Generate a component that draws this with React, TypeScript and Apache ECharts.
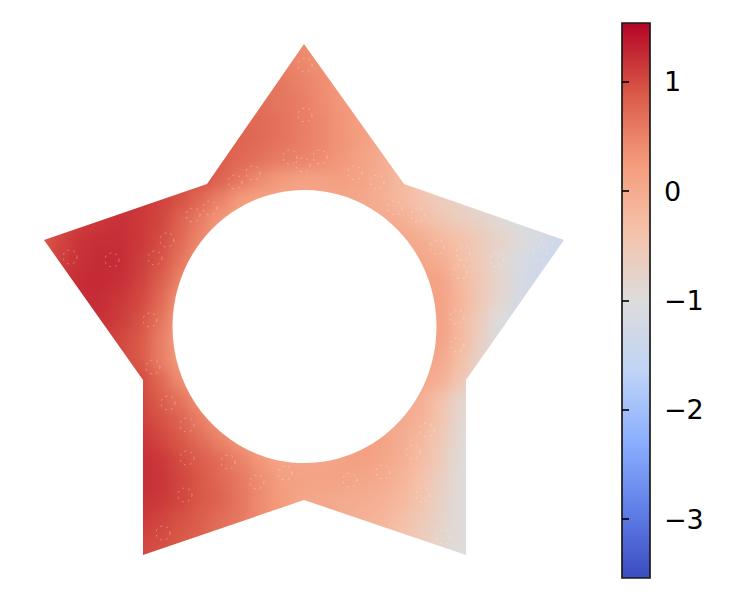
import React, { useEffect, useRef } from "react";
import * as echarts from "echarts";

const VALUE_MIN = -3.54;
const VALUE_MAX = 1.54;
const coolwarm = ["#3b4cc0", "#6180e9", "#8db0fe", "#c0d4f5", "#dddcdc", "#f5c2aa", "#f49a7b", "#d95847", "#b40426"];
const colorbarTicks = [-3, -2, -1, 0, 1];

const xCells = Array.from({ length: 29 }, (_, i) => String(20 + i * 20));
const yCells = Array.from({ length: 29 }, (_, i) => String(20 + i * 20));

// [row y, first column x]
const fieldRows: [number, number, number[]][] = [
  [40, 260, [0.45, 0.4, 0.4, 0.38, 0.3]],
  [60, 260, [0.5, 0.5, 0.45, 0.35, 0.3]],
  [80, 240, [0.62, 0.6, 0.6, 0.5, 0.4, 0.3, 0.25]],
  [100, 220, [0.72, 0.7, 0.68, 0.62, 0.55, 0.42, 0.3, 0.2, 0.12]],
  [120, 200, [0.82, 0.78, 0.75, 0.72, 0.65, 0.55, 0.45, 0.32, 0.2, 0.05, -0.05]],
  [140, 180, [0.95, 0.88, 0.8, 0.78, 0.72, 0.65, 0.55, 0.45, 0.33, 0.2, 0.05, -0.15, -0.3]],
  [160, 140, [1.1, 1.05, 1.0, 0.9, 0.85, 0.75, 0.65, 0.55, 0.5, 0.4, 0.3, 0.15, 0, -0.2, -0.4, -0.55]],
  [180, 100, [1.15, 1.15, 1.12, 1.05, 1.0, 0.92, 0.8, 0.6, 0.4, 0.25, 0.15, 0.15, 0.2, 0.12, -0.02, -0.2, -0.4, -0.55, -0.7, -0.85]],
  [200, 60, [1.0, 1.1, 1.15, 1.18, 1.15, 1.08, 0.95, 0.75, 0.5, 0.25, 0.15, 0.1, 0.1, 0.1, 0.1, 0.05, -0.05, -0.2, -0.4, -0.6, -0.75, -0.85, -1.0, -1.1]],
  [220, 20, [0.8, 0.9, 1.02, 1.1, 1.15, 1.2, 1.15, 1.05, 0.8, 0.55, 0.3, 0.15, 0.1]],
  [220, 360, [0.1, 0.05, -0.05, -0.25, -0.45, -0.6, -0.75, -0.9, -1.05, -1.15, -1.25]],
  [240, 20, [0.8, 0.85, 1.05, 1.18, 1.22, 1.22, 1.15, 1.0, 0.75, 0.45, 0.2, 0.1]],
  [240, 380, [0.12, 0.1, -0.02, -0.2, -0.35, -0.55, -0.75, -0.95, -1.15, -1.3, -1.35]],
  [260, 40, [0.9, 1.08, 1.2, 1.25, 1.23, 1.12, 0.95, 0.65, 0.3, 0.15]],
  [260, 400, [0.1, 0.1, -0.05, -0.3, -0.55, -0.85, -1.1, -1.3, -1.35]],
  [280, 40, [1.05, 1.15, 1.23, 1.25, 1.22, 1.08, 0.85, 0.5, 0.2]],
  [280, 420, [0.15, 0.12, -0.2, -0.5, -0.8, -1.15, -1.3]],
  [300, 60, [1.2, 1.23, 1.23, 1.15, 1.03, 0.75, 0.35, 0.15]],
  [300, 420, [0.15, 0.12, -0.15, -0.5, -0.85, -1.2, -1.3]],
  [320, 80, [1.2, 1.2, 1.12, 0.95, 0.65, 0.25, 0.1]],
  [320, 420, [0.15, 0.15, -0.2, -0.6, -1, -1.25]],
  [340, 80, [1.12, 1.12, 1.03, 0.9, 0.55, 0.2, 0.1]],
  [340, 420, [0.15, 0.15, -0.2, -0.65, -1.1, -1.3]],
  [360, 100, [1.05, 1.0, 0.9, 0.55, 0.25, 0.1]],
  [360, 420, [0.1, 0.05, -0.3, -0.75, -1.1]],
  [380, 120, [1.05, 1.0, 0.75, 0.4, 0.15, 0.1]],
  [380, 400, [0.1, 0.1, -0.05, -0.45, -0.85, -1.1]],
  [400, 120, [1.1, 1.05, 0.85, 0.65, 0.35, 0.1, 0.1]],
  [400, 380, [0.1, 0.1, -0.05, -0.35, -0.8, -1, -1]],
  [420, 120, [1.15, 1.1, 0.95, 0.8, 0.55, 0.3, 0.05, 0.05]],
  [420, 360, [0.15, 0.1, 0.05, -0.1, -0.4, -0.85, -1]],
  [440, 120, [1.18, 1.18, 1.05, 0.9, 0.7, 0.5, 0.3, 0.1, 0.1]],
  [440, 340, [0.2, 0.2, 0.15, -0.02, -0.2, -0.5, -0.9, -1]],
  [460, 120, [1.22, 1.22, 1.15, 1.0, 0.85, 0.7, 0.5, 0.3, 0.12, 0.1, 0.1, 0.15, 0.18, 0.1, -0.05, -0.25, -0.55, -0.92, -1]],
  [480, 120, [1.22, 1.22, 1.18, 1.05, 0.9, 0.75, 0.6, 0.4, 0.2, 0.15, 0.12, 0.12, 0.08, 0.02, -0.12, -0.35, -0.65, -0.95, -1]],
  [500, 120, [1.2, 1.2, 1.15, 1.05, 0.9, 0.8, 0.62, 0.4, 0.25, 0.1, 0.05, 0.02, -0.02, -0.08, -0.2, -0.4, -0.7, -0.95, -1]],
  [520, 120, [1.15, 1.15, 1.05, 0.95, 0.85, 0.7, 0.6, 0.4, 0.25, 0.15, 0.1, 0, -0.1, -0.15, -0.3, -0.5, -0.75, -0.95, -1]],
  [540, 120, [1.05, 1.05, 1.0, 0.9, 0.8, 0.65, 0.5, 0.3]],
  [540, 360, [-0.15, -0.2, -0.35, -0.55, -0.8, -0.95, -1]],
  [560, 120, [1, 1, 0.95, 0.85, 0.7]],
  [560, 400, [-0.45, -0.6, -0.85, -1, -1]],
];

const starOutline: [number, number][] = [
  [304, 44], [404, 184], [564, 240], [466, 380], [466, 555], [304, 500], [143, 555], [143, 380], [44, 240], [207, 184],
];
const holeCenter: [number, number] = [304.5, 326.5];
const holeRadii: [number, number] = [132, 136.5];

// faint rings left by the mesh
const meshRings: [number, number][] = [
  [70, 257], [112, 260], [155, 258], [167, 240], [193, 215], [210, 208], [150, 320], [153, 367],
  [395, 208], [418, 215], [437, 247], [460, 272], [463, 253], [497, 260], [540, 253], [457, 317], [457, 345],
  [168, 403], [187, 425], [187, 458], [228, 462], [185, 495], [257, 482], [285, 473], [163, 533],
  [350, 480], [383, 472], [413, 452], [423, 495], [443, 537], [427, 430],
  [305, 65], [305, 115], [253, 173], [355, 173], [235, 182], [290, 157], [320, 157], [303, 165], [377, 182],
];

export default function App() {
  const fieldRef = useRef<HTMLDivElement>(null);
  const frontRef = useRef<HTMLDivElement>(null);

  useEffect(() => {
    const field = echarts.init(fieldRef.current!, null, { renderer: "svg" });
    const front = echarts.init(frontRef.current!, null, { renderer: "svg" });

    const cells: [number, number, number][] = [];
    fieldRows.forEach(([y, x0, values]) => {
      values.forEach((v, i) => {
        cells.push([xCells.indexOf(String(x0 + i * 20)), yCells.indexOf(String(y)), v]);
      });
    });

    field.setOption({
      animation: false,
      grid: { left: 10, top: 10, width: 580, height: 580 },
      xAxis: { type: "category", data: xCells, show: false },
      yAxis: { type: "category", data: yCells, show: false, inverse: true },
      visualMap: { show: false, min: VALUE_MIN, max: VALUE_MAX, inRange: { color: coolwarm }, seriesIndex: 0 },
      series: [{ type: "heatmap", data: cells, itemStyle: { borderWidth: 0 }, progressive: 0 }],
    });

    const stops = coolwarm.map((color, i) => ({ offset: i / (coolwarm.length - 1), color })).reverse();
    stops.forEach((s) => (s.offset = 1 - s.offset));

    front.setOption({
      animation: false,
      backgroundColor: "transparent",
      grid: [
        { left: 0, top: 0, width: 750, height: 600 },
        { left: 622, top: 23, width: 28, height: 555 },
      ],
      xAxis: [
        { type: "value", min: 0, max: 750, show: false, gridIndex: 0 },
        { type: "value", min: 0, max: 1, show: false, gridIndex: 1 },
      ],
      yAxis: [
        { type: "value", min: 0, max: 600, inverse: true, show: false, gridIndex: 0 },
        {
          type: "value",
          gridIndex: 1,
          z: 10,
          min: VALUE_MIN,
          max: VALUE_MAX,
          position: "right",
          splitLine: { show: false },
          axisLine: { show: false },
          axisTick: { show: true, length: 7, customValues: colorbarTicks, lineStyle: { color: "#000", width: 1.6 } },
          axisLabel: {
            show: true,
            customValues: colorbarTicks,
            margin: 14,
            color: "#000",
            fontSize: 27,
            fontFamily: "DejaVu Sans",
            formatter: (v: number) => String(v).replace("-", "\u2212"),
          },
        },
      ],
      series: [
        {
          type: "custom",
          xAxisIndex: 0,
          yAxisIndex: 0,
          clip: false,
          silent: true,
          data: [[0, 0]],
          renderItem: (_: any, api: any) => {
            const pts = starOutline.map((p) => api.coord(p));
            const reversed = pts.slice().reverse();
            const star = reversed.map((p: number[], i: number) => `${i ? "L" : "M"}${p[0]} ${p[1]}`).join(" ");
            const a = api.coord([0, 0]);
            const b = api.coord([616, 600]);
            const c = api.coord(holeCenter);
            const r = api.size(holeRadii);
            return {
              type: "group",
              children: [
                {
                  type: "path",
                  shape: { pathData: `M${a[0]} ${a[1]} L${b[0]} ${a[1]} L${b[0]} ${b[1]} L${a[0]} ${b[1]} Z ${star} Z` },
                  style: { fill: "#fff" },
                },
                {
                  type: "ellipse",
                  shape: { cx: c[0], cy: c[1], rx: r[0], ry: r[1] },
                  style: { fill: "#fff" },
                },
              ],
            };
          },
        },
        {
          type: "custom",
          xAxisIndex: 0,
          yAxisIndex: 0,
          clip: false,
          silent: true,
          z: 3,
          data: meshRings,
          renderItem: (_: any, api: any) => {
            const c = api.coord([api.value(0), api.value(1)]);
            return {
              type: "circle",
              shape: { cx: c[0], cy: c[1], r: 7 },
              style: { fill: "none", stroke: "rgba(255,255,255,0.33)", lineWidth: 1, lineDash: [2, 4] },
            };
          },
        },
        {
          type: "custom",
          xAxisIndex: 1,
          yAxisIndex: 1,
          clip: false,
          silent: true,
          data: [[0, 0]],
          z: 5,
          renderItem: (_: any, api: any) => {
            const top = api.coord([0, VALUE_MAX]);
            const bottom = api.coord([1, VALUE_MIN]);
            return {
              type: "rect",
              shape: { x: top[0], y: top[1], width: bottom[0] - top[0], height: bottom[1] - top[1] },
              style: {
                fill: new echarts.graphic.LinearGradient(0, 0, 0, 1, stops),
                stroke: "#1a1a1a",
                lineWidth: 1.7,
              },
            };
          },
        },
      ],
    });

    return () => {
      field.dispose();
      front.dispose();
    };
  }, []);

  const layer: React.CSSProperties = { position: "absolute", left: 0, top: 0, width: 750, height: 600 };
  return (
    <div style={{ ...layer, background: "#fff", overflow: "hidden" }}>
      <div ref={fieldRef} style={{ ...layer, filter: "blur(7px)" }} />
      <div ref={frontRef} style={layer} />
    </div>
  );
}
